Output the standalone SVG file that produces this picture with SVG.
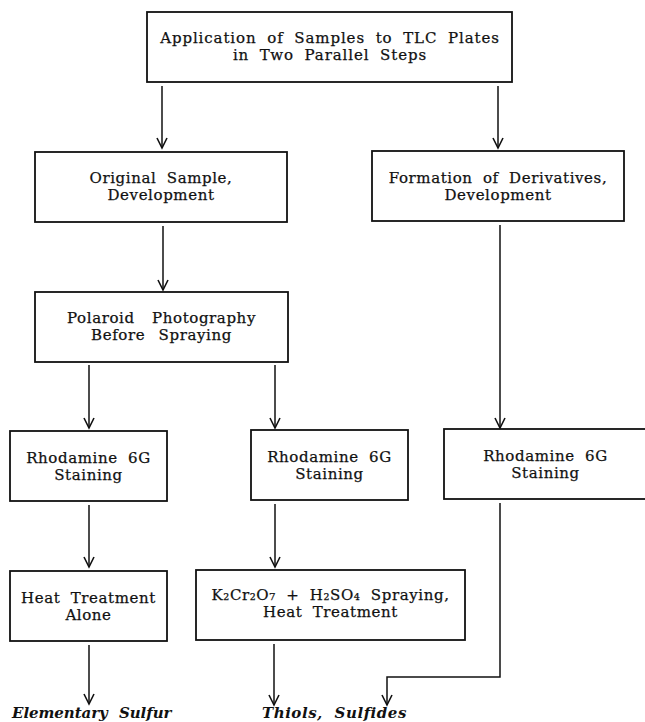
<svg xmlns="http://www.w3.org/2000/svg" width="645" height="722" viewBox="0 0 645 722">
<defs>
<marker id="arr" markerUnits="userSpaceOnUse" markerWidth="14" markerHeight="14" refX="11" refY="6" orient="auto" overflow="visible">
<path d="M1,1 L11,6 L1,11" fill="none" stroke="#111" stroke-width="1.6"/>
</marker>
<style>
.box{fill:#fff;stroke:#111;stroke-width:1.8}
.t{font-family:"DejaVu Serif","Liberation Serif",serif;font-size:15px;fill:#111;stroke:#111;stroke-width:0.25px;text-anchor:middle;letter-spacing:0.6px;word-spacing:5px}
.r{font-family:"DejaVu Serif","Liberation Serif",serif;font-size:15px;fill:#111;font-weight:bold;font-style:italic;letter-spacing:0.6px;word-spacing:6px}
.c{fill:none;stroke:#111;stroke-width:1.5;marker-end:url(#arr)}
</style>
</defs>
<rect width="645" height="722" fill="#fff"/>
<g id="connectors">
<line class="c" x1="162" y1="86" x2="162" y2="148"/>
<line class="c" x1="498" y1="86" x2="498" y2="148"/>
<line class="c" x1="163" y1="226" x2="163" y2="290"/>
<line class="c" x1="500" y1="225" x2="500" y2="428"/>
<line class="c" x1="89" y1="365" x2="89" y2="428"/>
<line class="c" x1="275" y1="365" x2="275" y2="428"/>
<line class="c" x1="89" y1="505" x2="89" y2="567"/>
<line class="c" x1="275" y1="504" x2="275" y2="567"/>
<line class="c" x1="89" y1="645" x2="89" y2="704"/>
<line class="c" x1="274" y1="644" x2="274" y2="705"/>
<path class="c" d="M500,503 V677 H387 V705"/>
</g>
<g id="n_apply">
<rect class="box" x="147" y="12" width="365" height="70"/>
<text class="t" x="330" y="43" style="letter-spacing:0.9px">Application of Samples to TLC Plates</text>
<text class="t" x="330" y="60" style="letter-spacing:0.9px">in Two Parallel Steps</text>
</g>
<g id="n_original">
<rect class="box" x="35" y="152" width="252" height="70"/>
<text class="t" x="161" y="183">Original Sample,</text>
<text class="t" x="161" y="200">Development</text>
</g>
<g id="n_formation">
<rect class="box" x="372" y="151" width="252" height="70"/>
<text class="t" x="498" y="183">Formation of Derivatives,</text>
<text class="t" x="498" y="200">Development</text>
</g>
<g id="n_polaroid">
<rect class="box" x="35" y="292" width="253" height="70"/>
<text class="t" x="161.5" y="323" style="word-spacing:12px">Polaroid Photography</text>
<text class="t" x="161.5" y="340" style="word-spacing:8px">Before Spraying</text>
</g>
<g id="n_rh1">
<rect class="box" x="10" y="431" width="157" height="70"/>
<text class="t" x="88.5" y="463">Rhodamine 6G</text>
<text class="t" x="88.5" y="480">Staining</text>
</g>
<g id="n_rh2">
<rect class="box" x="251" y="430" width="157" height="70"/>
<text class="t" x="329.5" y="462">Rhodamine 6G</text>
<text class="t" x="329.5" y="479">Staining</text>
</g>
<g id="n_rh3">
<rect class="box" x="444" y="429" width="204" height="70"/>
<text class="t" x="545.5" y="461">Rhodamine 6G</text>
<text class="t" x="545.5" y="478">Staining</text>
</g>
<g id="n_heat">
<rect class="box" x="10" y="571" width="157" height="70"/>
<text class="t" x="88.5" y="603">Heat Treatment</text>
<text class="t" x="88.5" y="620">Alone</text>
</g>
<g id="n_k2cr">
<rect class="box" x="196" y="570" width="269" height="70"/>
<text class="t" x="330.5" y="600">K₂Cr₂O₇ + H₂SO₄ Spraying,</text>
<text class="t" x="330.5" y="617">Heat Treatment</text>
</g>
<g id="results">
<text class="r" x="12" y="718" textLength="160" lengthAdjust="spacing">Elementary Sulfur</text>
<text class="r" x="262" y="718" textLength="145" lengthAdjust="spacing">Thiols, Sulfides</text>
</g>
</svg>
